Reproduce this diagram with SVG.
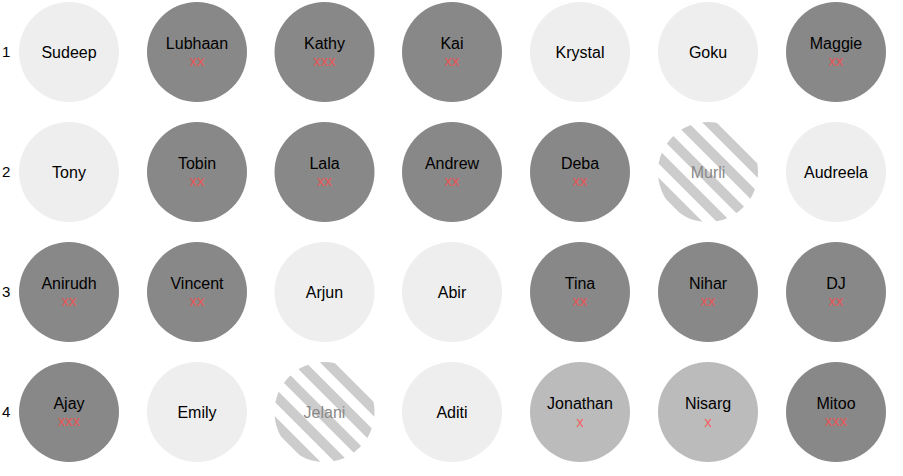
<svg xmlns="http://www.w3.org/2000/svg" width="903" height="476" viewBox="0 0 903 476">
<style>
text{font-family:"Liberation Sans",Arial,sans-serif;text-anchor:middle}
.n{font-size:16px;fill:#000}
.r{font-size:15px;fill:#000;text-anchor:start}
.x{font-size:15px;fill:#ff4a4a;fill-opacity:0.8}
.xl{font-size:15px;fill:#ff4a4a;fill-opacity:0.8}
.lt{fill:#eeeeee}
.dk{fill:#888888}
.md{fill:#bbbbbb}
.st{fill:url(#stripes)}
.g{fill:#888888}
</style>
<defs>
<pattern id="stripes" patternUnits="userSpaceOnUse" width="20" height="20" patternTransform="rotate(45)">
<rect width="20" height="20" fill="#ffffff"/>
<rect width="20" height="10" fill="#cccccc"/>
</pattern>
</defs>
<g id="rowlabels">
<text class="r" x="2" y="57">1</text>
<text class="r" x="2" y="177">2</text>
<text class="r" x="2" y="297">3</text>
<text class="r" x="2" y="417">4</text>
</g>
<g id="connectors"></g>
<g id="Sudeep"><circle class="lt" cx="69" cy="52" r="50"/><text class="n" x="69" y="58">Sudeep</text></g>
<g id="Lubhaan"><circle class="dk" cx="197" cy="52" r="50"/><text class="n" x="197" y="49">Lubhaan</text><text class="x" x="197" y="66">xx</text></g>
<g id="Kathy"><circle class="dk" cx="324.5" cy="52" r="50"/><text class="n" x="324.5" y="49">Kathy</text><text class="x" x="324.5" y="66">xxx</text></g>
<g id="Kai"><circle class="dk" cx="452" cy="52" r="50"/><text class="n" x="452" y="49">Kai</text><text class="x" x="452" y="66">xx</text></g>
<g id="Krystal"><circle class="lt" cx="580" cy="52" r="50"/><text class="n" x="580" y="58">Krystal</text></g>
<g id="Goku"><circle class="lt" cx="708" cy="52" r="50"/><text class="n" x="708" y="58">Goku</text></g>
<g id="Maggie"><circle class="dk" cx="836" cy="52" r="50"/><text class="n" x="836" y="49">Maggie</text><text class="x" x="836" y="66">xx</text></g>

<g id="Tony"><circle class="lt" cx="69" cy="172" r="50"/><text class="n" x="69" y="178">Tony</text></g>
<g id="Tobin"><circle class="dk" cx="197" cy="172" r="50"/><text class="n" x="197" y="169">Tobin</text><text class="x" x="197" y="186">xx</text></g>
<g id="Lala"><circle class="dk" cx="324.5" cy="172" r="50"/><text class="n" x="324.5" y="169">Lala</text><text class="x" x="324.5" y="186">xx</text></g>
<g id="Andrew"><circle class="dk" cx="452" cy="172" r="50"/><text class="n" x="452" y="169">Andrew</text><text class="x" x="452" y="186">xx</text></g>
<g id="Deba"><circle class="dk" cx="580" cy="172" r="50"/><text class="n" x="580" y="169">Deba</text><text class="x" x="580" y="186">xx</text></g>
<g id="Murli"><circle class="st" cx="708" cy="172" r="50"/><text class="n g" x="708" y="178">Murli</text></g>
<g id="Audreela"><circle class="lt" cx="836" cy="172" r="50"/><text class="n" x="836" y="178">Audreela</text></g>

<g id="Anirudh"><circle class="dk" cx="69" cy="292" r="50"/><text class="n" x="69" y="289">Anirudh</text><text class="x" x="69" y="306">xx</text></g>
<g id="Vincent"><circle class="dk" cx="197" cy="292" r="50"/><text class="n" x="197" y="289">Vincent</text><text class="x" x="197" y="306">xx</text></g>
<g id="Arjun"><circle class="lt" cx="324.5" cy="292" r="50"/><text class="n" x="324.5" y="298">Arjun</text></g>
<g id="Abir"><circle class="lt" cx="452" cy="292" r="50"/><text class="n" x="452" y="298">Abir</text></g>
<g id="Tina"><circle class="dk" cx="580" cy="292" r="50"/><text class="n" x="580" y="289">Tina</text><text class="x" x="580" y="306">xx</text></g>
<g id="Nihar"><circle class="dk" cx="708" cy="292" r="50"/><text class="n" x="708" y="289">Nihar</text><text class="x" x="708" y="306">xx</text></g>
<g id="DJ"><circle class="dk" cx="836" cy="292" r="50"/><text class="n" x="836" y="289">DJ</text><text class="x" x="836" y="306">xx</text></g>

<g id="Ajay"><circle class="dk" cx="69" cy="412" r="50"/><text class="n" x="69" y="409">Ajay</text><text class="x" x="69" y="426">xxx</text></g>
<g id="Emily"><circle class="lt" cx="197" cy="412" r="50"/><text class="n" x="197" y="418">Emily</text></g>
<g id="Jelani"><circle class="st" cx="324.5" cy="412" r="50"/><text class="n g" x="324.5" y="418">Jelani</text></g>
<g id="Aditi"><circle class="lt" cx="452" cy="412" r="50"/><text class="n" x="452" y="418">Aditi</text></g>
<g id="Jonathan"><circle class="md" cx="580" cy="412" r="50"/><text class="n" x="580" y="409">Jonathan</text><text class="xl" x="580" y="427">x</text></g>
<g id="Nisarg"><circle class="md" cx="708" cy="412" r="50"/><text class="n" x="708" y="409">Nisarg</text><text class="xl" x="708" y="427">x</text></g>
<g id="Mitoo"><circle class="dk" cx="836" cy="412" r="50"/><text class="n" x="836" y="409">Mitoo</text><text class="x" x="836" y="426">xxx</text></g>
</svg>
